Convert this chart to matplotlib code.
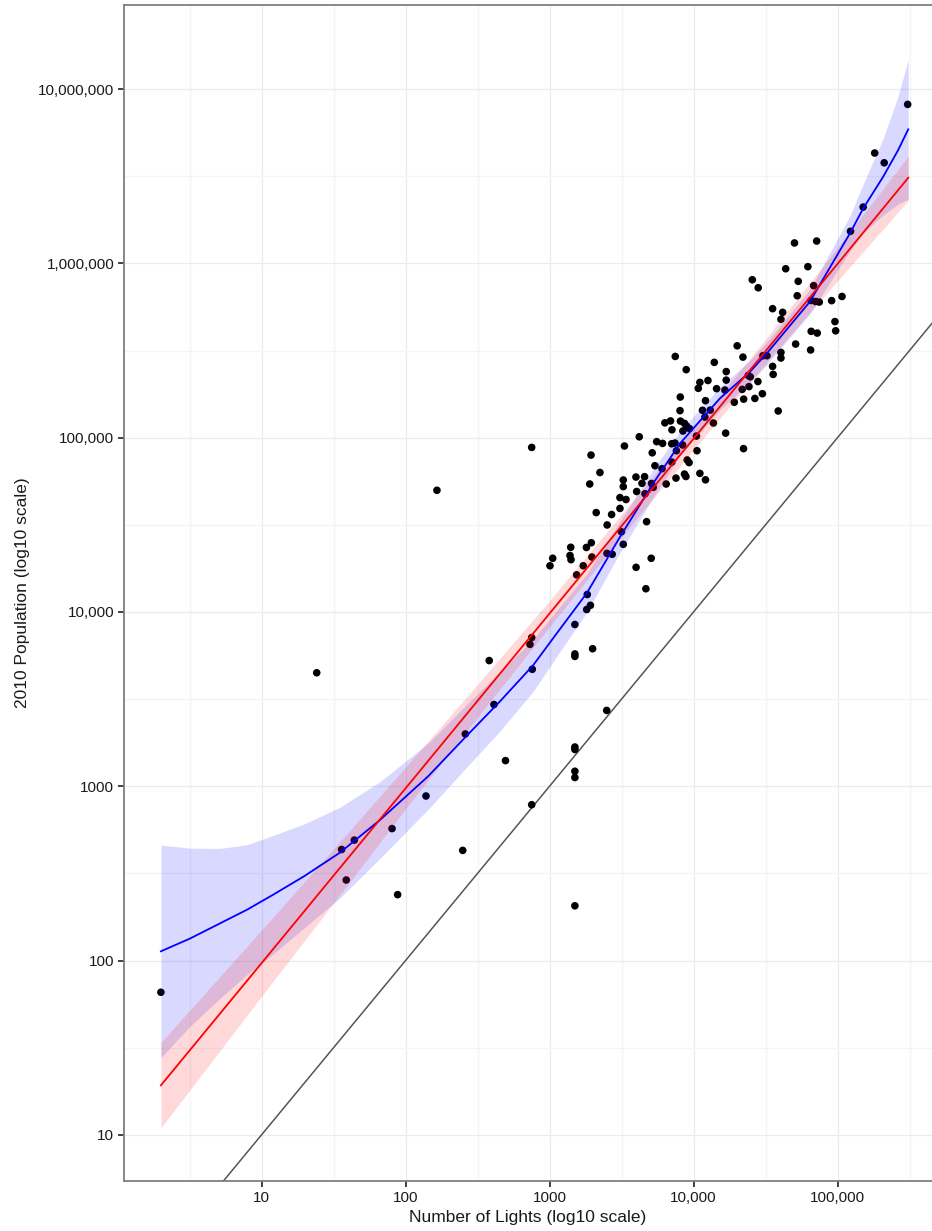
import matplotlib.pyplot as plt
import numpy as np

plt.rcParams['font.family'] = ['Liberation Sans', 'DejaVu Sans']

# Scatter points (log10 of lights, log10 of 2010 population)
lights_log10 = [5.487, 5.258, 5.324, 5.178, 5.090, 4.701, 4.855, 4.640, 4.794, 4.408,
                4.449, 4.727, 4.834, 4.720, 4.549, 4.619, 4.607, 4.815, 4.848, 4.873,
                4.959, 5.031, 4.982, 4.987, 4.817, 4.859, 4.709, 4.813, 4.303, 4.343,
                4.482, 4.510, 4.607, 4.607, 4.549, 4.553, 4.144, 4.227, 3.873, 3.949,
                4.100, 4.044, 4.033, 4.227, 4.160, 4.218, 4.338, 4.385, 4.394, 4.380,
                4.447, 4.478, 4.426, 4.348, 4.283, 4.588, 3.908, 3.906, 4.083, 4.062,
                4.116, 4.079, 3.801, 3.840, 3.850, 3.909, 3.937, 3.951, 3.926, 3.972,
                4.020, 4.138, 4.223, 3.744, 3.785, 3.848, 3.871, 3.924, 4.347, 4.024,
                3.881, 3.623, 3.520, 3.713, 3.732, 3.781, 3.849, 3.956, 3.969, 3.350,
                3.288, 3.279, 2.876, 2.218, 3.512, 3.512, 3.600, 3.660, 3.642, 3.708,
                3.810, 3.878, 3.937, 3.947, 4.044, 4.083, 3.489, 3.531, 3.605, 3.663,
                3.720, 3.489, 3.324, 3.431, 3.400, 3.674, 3.499, 3.512, 3.290, 3.256,
                3.147, 3.142, 3.149, 3.294, 3.399, 3.435, 3.022, 3.003, 3.234, 3.188,
                3.706, 3.601, 3.669, 3.262, 3.284, 3.258, 3.176, 2.876, 2.864, 3.299,
                3.176, 3.176, 2.880, 3.397, 3.176, 3.176, 3.176, 3.176, 2.694, 2.876,
                3.176, 2.581, 2.614, 2.415, 2.397, 2.142, 1.906, 1.945, 1.556, 1.644,
                1.588, 1.383, 0.301]
pop_log10 = [6.912, 6.633, 6.577, 6.323, 6.184, 6.117, 6.128, 5.969, 5.981, 5.906,
             5.860, 5.897, 5.872, 5.814, 5.740, 5.719, 5.679, 5.787, 5.781, 5.778,
             5.786, 5.810, 5.666, 5.613, 5.610, 5.600, 5.537, 5.503, 5.527, 5.462,
             5.470, 5.470, 5.489, 5.457, 5.409, 5.363, 5.432, 5.379, 5.466, 5.390,
             5.328, 5.317, 5.283, 5.330, 5.281, 5.273, 5.277, 5.293, 5.349, 5.357,
             5.322, 5.252, 5.225, 5.221, 5.203, 5.153, 5.233, 5.155, 5.212, 5.157,
             5.158, 5.118, 5.085, 5.096, 5.045, 5.095, 5.082, 5.067, 5.038, 5.052,
             5.009, 5.084, 5.026, 4.977, 4.967, 4.965, 4.969, 4.958, 4.937, 4.925,
             4.925, 5.005, 4.952, 4.913, 4.839, 4.822, 4.860, 4.872, 4.857, 4.800,
             4.900, 4.734, 4.944, 4.698, 4.757, 4.719, 4.774, 4.776, 4.738, 4.737,
             4.734, 4.768, 4.791, 4.777, 4.795, 4.758, 4.656, 4.645, 4.691, 4.678,
             4.715, 4.594, 4.570, 4.559, 4.499, 4.518, 4.460, 4.388, 4.397, 4.370,
             4.371, 4.324, 4.300, 4.315, 4.336, 4.331, 4.308, 4.265, 4.265, 4.213,
             4.308, 4.256, 4.133, 4.100, 4.038, 4.014, 3.928, 3.853, 3.814, 3.789,
             3.759, 3.745, 3.671, 3.435, 3.225, 3.211, 3.086, 3.050, 3.147, 2.894,
             2.314, 3.721, 3.469, 3.300, 2.632, 2.944, 2.757, 2.378, 2.637, 2.691,
             2.462, 3.651, 1.818]

# Linear fit (red) with its confidence band, log10 units
fit_x = [0.301, 1.0, 1.5, 2.0, 2.5, 3.0, 3.5, 4.0, 4.5, 5.0, 5.491]
fit_y = [1.284, 1.985, 2.487, 2.988, 3.490, 3.991, 4.493, 4.994, 5.496, 5.997, 6.491]
fit_lo = [1.04, 1.795, 2.33, 2.87, 3.395, 3.915, 4.43, 4.93, 5.425, 5.90, 6.36]
fit_hi = [1.53, 2.175, 2.64, 3.11, 3.585, 4.065, 4.56, 5.055, 5.565, 6.09, 6.615]

# Loess smooth (blue) with its confidence band, log10 units
loess_x = [0.301, 0.5, 0.711, 0.9, 1.081, 1.3, 1.544, 1.822, 2.158, 2.424, 2.656,
           2.887, 3.067, 3.258, 3.489, 3.720, 3.906, 4.183, 4.392, 4.508, 4.808,
           5.086, 5.178, 5.317, 5.421, 5.491]
loess_y = [2.053, 2.125, 2.213, 2.292, 2.378, 2.486, 2.619, 2.806, 3.058, 3.289,
           3.487, 3.695, 3.896, 4.107, 4.430, 4.738, 4.967, 5.225, 5.378, 5.483,
           5.780, 6.172, 6.315, 6.497, 6.650, 6.769]
loess_lo = [1.443, 1.62, 1.783, 1.92, 2.038, 2.19, 2.359, 2.586, 2.868, 3.109,
            3.317, 3.545, 3.766, 3.997, 4.340, 4.658, 4.897, 5.160, 5.313, 5.418,
            5.710, 6.072, 6.175, 6.277, 6.340, 6.369]
loess_hi = [2.663, 2.645, 2.643, 2.665, 2.718, 2.785, 2.879, 3.026, 3.248, 3.469,
            3.657, 3.845, 4.026, 4.217, 4.520, 4.818, 5.037, 5.290, 5.443, 5.548,
            5.850, 6.272, 6.455, 6.717, 6.960, 7.169]

x_ticks = [10, 100, 1000, 10000, 100000]
x_labels = ['10', '100', '1000', '10,000', '100,000']
y_ticks = [10, 100, 1000, 10000, 100000, 1000000, 10000000]
y_labels = ['10', '100', '1000', '10,000', '100,000', '1,000,000', '10,000,000']

fig = plt.figure(figsize=(9.32, 12.31), dpi=100)
ax = fig.add_axes([0.133, 0.0406, 0.867, 0.9553])
ax.set_xscale('log')
ax.set_yscale('log')

# identity line y = x
ax.axline((1, 1), (10, 10), color='#555555', lw=1.1, zorder=2)

ax.scatter(10 ** np.array(lights_log10), 10 ** np.array(pop_log10), s=30, c='black',
           edgecolors='none', zorder=3)

ax.fill_between(10 ** np.array(loess_x), 10 ** np.array(loess_lo), 10 ** np.array(loess_hi),
                color='#0000ff', alpha=0.15, lw=0, zorder=4)
ax.fill_between(10 ** np.array(fit_x), 10 ** np.array(fit_lo), 10 ** np.array(fit_hi),
                color='#ff0000', alpha=0.15, lw=0, zorder=4)
ax.plot(10 ** np.array(loess_x), 10 ** np.array(loess_y), color='#0000ff', lw=1.3, zorder=5)
ax.plot(10 ** np.array(fit_x), 10 ** np.array(fit_y), color='#ff0000', lw=1.3, zorder=5)

ax.set_xticks(x_ticks)
ax.set_xticklabels(x_labels)
ax.set_yticks(y_ticks)
ax.set_yticklabels(y_labels)
ax.set_xticks([10 ** (k + 0.5) for k in range(0, 6)], minor=True)
ax.set_yticks([10 ** (k + 0.5) for k in range(1, 8)], minor=True)
ax.set_xticklabels([], minor=True)
ax.set_yticklabels([], minor=True)
ax.tick_params(which='major', length=4, width=1.2, color='#222222',
               labelsize=11, labelcolor='#1a1a1a', pad=3)
ax.tick_params(which='minor', length=0)

# limits last, so the tick calls cannot widen them
ax.set_xlim(10 ** 0.0444, 10 ** 5.656)
ax.set_ylim(10 ** 0.735, 10 ** 7.482)

ax.grid(which='major', color='#ebebeb', lw=0.9, zorder=0)
ax.grid(which='minor', color='#f4f4f4', lw=0.9, zorder=0)
ax.set_axisbelow(True)

for side in ['top', 'left', 'bottom']:
    ax.spines[side].set_color('#7f7f7f')
    ax.spines[side].set_linewidth(1.3)
ax.spines['right'].set_visible(False)

ax.set_xlabel('Number of Lights (log10 scale)', fontsize=12.5, color='#1a1a1a', labelpad=4)
ax.set_ylabel('2010 Population (log10 scale)', fontsize=12.5, color='#1a1a1a', labelpad=6)

fig.savefig('out.png', dpi=100)
